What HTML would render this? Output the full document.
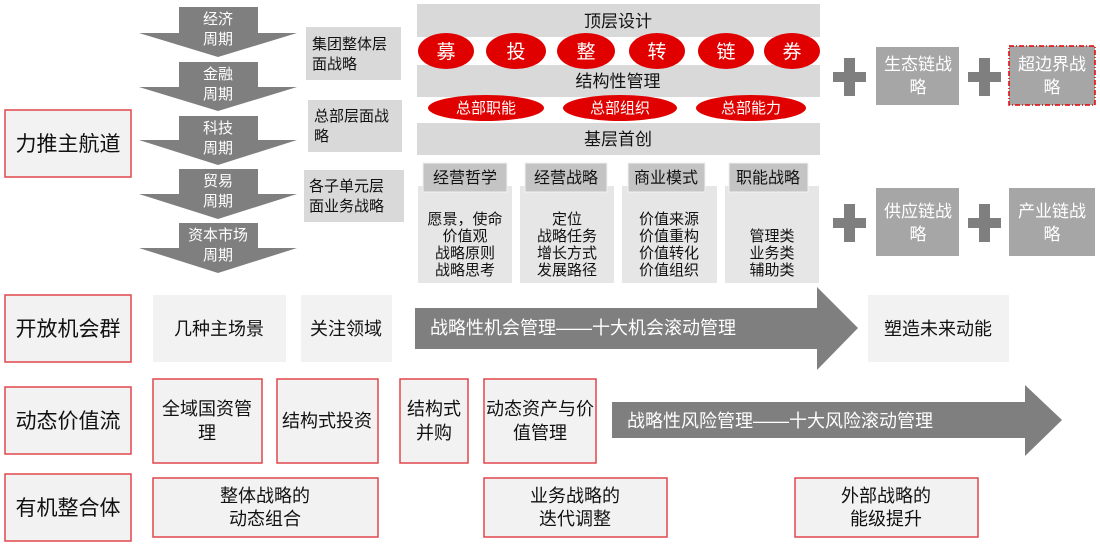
<!DOCTYPE html>
<html><head><meta charset="utf-8"><style>
html,body{margin:0;padding:0;background:#fff;}
svg{display:block;}
text{font-family:"Liberation Sans","Noto Sans CJK SC",sans-serif;}
</style></head><body>
<svg width="1100" height="547" viewBox="0 0 1100 547" xmlns="http://www.w3.org/2000/svg">
<g fill="#f2f2f2" stroke="#e0474c" stroke-width="1.5">
<rect x="5" y="110" width="126" height="67"/>
<rect x="5" y="295" width="126" height="67"/>
<rect x="5" y="387" width="126" height="67"/>
<rect x="5" y="474" width="126" height="67"/>
<rect x="153" y="379" width="109" height="84"/>
<rect x="277" y="379" width="101" height="84"/>
<rect x="400" y="379" width="68" height="84"/>
<rect x="484" y="379" width="112" height="84"/>
<rect x="153" y="478" width="225" height="59"/>
<rect x="484" y="478" width="183" height="59"/>
<rect x="795" y="478" width="183" height="59"/>
</g>
<g font-size="21" fill="#111" text-anchor="middle">
<text x="68" y="151">力推主航道</text>
<text x="68" y="336">开放机会群</text>
<text x="68" y="428">动态价值流</text>
<text x="68" y="515">有机整合体</text>
</g>
<g fill="#f2f2f2">
<rect x="153" y="295" width="133" height="67"/>
<rect x="301" y="295" width="91" height="67"/>
<rect x="868" y="295" width="141" height="67"/>
</g>
<g font-size="18" fill="#111" text-anchor="middle">
<text x="219" y="335">几种主场景</text>
<text x="346" y="335">关注领域</text>
<text x="938" y="335">塑造未来动能</text>
<text x="207" y="415">全域国资管</text><text x="207" y="439">理</text>
<text x="327" y="427">结构式投资</text>
<text x="434" y="415">结构式</text><text x="434" y="439">并购</text>
<text x="540" y="415">动态资产与价</text><text x="540" y="439">值管理</text>
<text x="265" y="502">整体战略的</text><text x="265" y="525">动态组合</text>
<text x="575" y="502">业务战略的</text><text x="575" y="525">迭代调整</text>
<text x="886" y="502">外部战略的</text><text x="886" y="525">能级提升</text>
</g>
<polygon fill="#7f7f7f" points="415,308 817,308 817,287 858,328 817,370 817,349 415,349"/>
<polygon fill="#7f7f7f" points="612,402 1025,402 1025,385 1062,420 1025,456 1025,438 612,438"/>
<g font-size="18" fill="#fff">
<text x="430" y="334">战略性机会管理——十大机会滚动管理</text>
<text x="627" y="427">战略性风险管理——十大风险滚动管理</text>
</g>
<g fill="#7f7f7f">
<polygon points="179,7 258,7 258,33 297,33 218,57 139,33 179,33"/>
<polygon points="179,62 258,62 258,87 297,87 218,111 139,87 179,87"/>
<polygon points="179,116 258,116 258,140 297,140 218,165 139,140 179,140"/>
<polygon points="179,169 258,169 258,194 297,194 218,219 139,194 179,194"/>
<polygon points="179,223 258,223 258,248 297,248 218,273 139,248 179,248"/>
</g>
<g font-size="15" fill="#fff" text-anchor="middle">
<text x="218" y="24">经济</text><text x="218" y="44">周期</text>
<text x="218" y="79">金融</text><text x="218" y="99">周期</text>
<text x="218" y="133">科技</text><text x="218" y="153">周期</text>
<text x="218" y="186">贸易</text><text x="218" y="206">周期</text>
<text x="218" y="240">资本市场</text><text x="218" y="260">周期</text>
</g>
<g fill="#d9d9d9">
<rect x="306" y="27" width="95" height="53"/>
<rect x="308" y="100" width="94" height="52"/>
<rect x="304" y="170" width="100" height="52"/>
</g>
<g font-size="15" fill="#111">
<text x="312" y="49">集团整体层</text><text x="312" y="69">面战略</text>
<text x="314" y="121">总部层面战</text><text x="314" y="141">略</text>
<text x="309" y="191">各子单元层</text><text x="309" y="211">面业务战略</text>
</g>
<g fill="#d9d9d9">
<rect x="417" y="4" width="403" height="33"/>
<rect x="417" y="65" width="403" height="32"/>
<rect x="417" y="123" width="403" height="32"/>
</g>
<g font-size="17" fill="#111" text-anchor="middle">
<text x="618" y="27">顶层设计</text>
<text x="618" y="87">结构性管理</text>
<text x="618" y="145">基层首创</text>
</g>
<g fill="#e00000">
<ellipse cx="446" cy="51" rx="28" ry="18"/>
<ellipse cx="516" cy="51" rx="30" ry="18"/>
<ellipse cx="586" cy="51" rx="29" ry="18"/>
<ellipse cx="657" cy="51" rx="28" ry="18"/>
<ellipse cx="726" cy="51" rx="28" ry="18"/>
<ellipse cx="792" cy="51" rx="28" ry="18"/>
<ellipse cx="486" cy="108" rx="58" ry="13"/>
<ellipse cx="620" cy="108" rx="57" ry="13"/>
<ellipse cx="751" cy="108" rx="55" ry="13"/>
</g>
<g font-size="19" fill="#fff" text-anchor="middle">
<text x="446" y="58">募</text><text x="516" y="58">投</text><text x="586" y="58">整</text>
<text x="657" y="58">转</text><text x="726" y="58">链</text><text x="792" y="58">券</text>
</g>
<g font-size="15" fill="#fff" text-anchor="middle">
<text x="486" y="113">总部职能</text><text x="620" y="113">总部组织</text><text x="751" y="113">总部能力</text>
</g>
<g fill="#e6e6e6">
<rect x="418" y="186" width="94" height="97"/>
<rect x="520" y="186" width="94" height="97"/>
<rect x="622" y="186" width="95" height="97"/>
<rect x="725" y="186" width="94" height="97"/>
</g>
<g fill="#c4c4c4" stroke="#f2f2f2" stroke-width="1">
<rect x="423" y="163" width="84" height="29"/>
<rect x="525" y="163" width="82" height="29"/>
<rect x="628" y="163" width="77" height="29"/>
<rect x="729" y="163" width="79" height="29"/>
</g>
<g font-size="16" fill="#111" text-anchor="middle">
<text x="465" y="183">经营哲学</text><text x="566" y="183">经营战略</text>
<text x="666" y="183">商业模式</text><text x="768" y="183">职能战略</text>
</g>
<g font-size="15" fill="#111" text-anchor="middle">
<text x="465" y="224">愿景，使命</text><text x="465" y="241">价值观</text><text x="465" y="258">战略原则</text><text x="465" y="275">战略思考</text>
<text x="567" y="224">定位</text><text x="567" y="241">战略任务</text><text x="567" y="258">增长方式</text><text x="567" y="275">发展路径</text>
<text x="669" y="224">价值来源</text><text x="669" y="241">价值重构</text><text x="669" y="258">价值转化</text><text x="669" y="275">价值组织</text>
<text x="772" y="241">管理类</text><text x="772" y="258">业务类</text><text x="772" y="275">辅助类</text>
</g>
<g fill="#7f7f7f">
<rect x="833" y="72" width="33" height="10"/><rect x="844" y="58" width="11" height="38"/>
<rect x="968" y="72" width="33" height="10"/><rect x="979" y="58" width="11" height="38"/>
<rect x="833" y="218" width="33" height="10"/><rect x="844" y="204" width="11" height="38"/>
<rect x="968" y="218" width="33" height="10"/><rect x="979" y="204" width="11" height="38"/>
</g>
<g fill="#a6a6a6">
<rect x="876" y="47" width="83" height="58"/>
<rect x="1009" y="46" width="86" height="59" stroke="#e00000" stroke-width="1.5" stroke-dasharray="5,2,1,2"/>
<rect x="876" y="188" width="83" height="68"/>
<rect x="1009" y="188" width="86" height="68"/>
</g>
<g font-size="17" fill="#fff" text-anchor="middle">
<text x="918" y="70">生态链战</text><text x="918" y="93">略</text>
<text x="1052" y="70">超边界战</text><text x="1052" y="93">略</text>
<text x="918" y="217">供应链战</text><text x="918" y="240">略</text>
<text x="1052" y="217">产业链战</text><text x="1052" y="240">略</text>
</g>
</svg>
</body></html>
